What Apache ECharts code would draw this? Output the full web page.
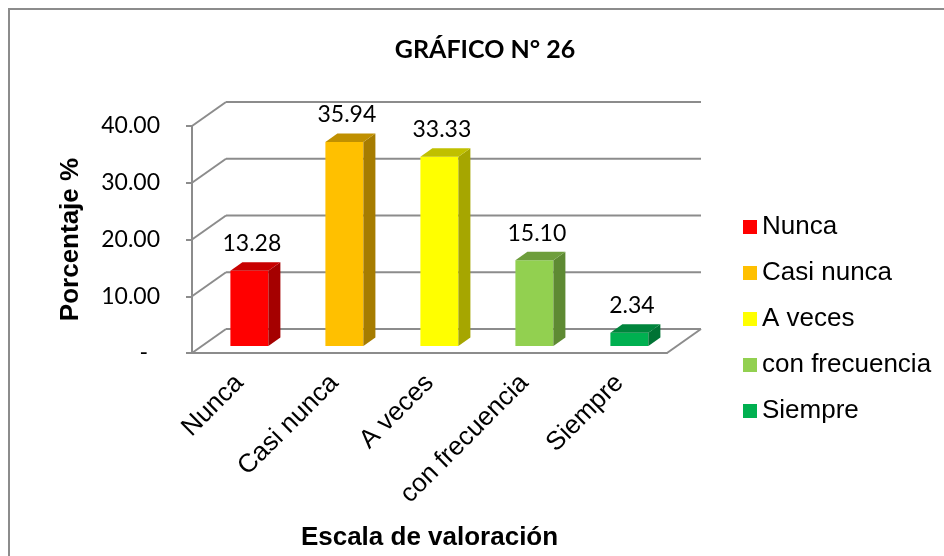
<!DOCTYPE html>
<html>
<head>
    <meta charset="utf-8">
    <title>GRÁFICO N° 26</title>
    <script src="https://cdn.jsdelivr.net/npm/echarts@6/dist/echarts.min.js"></script>
    <style>
        html, body { margin: 0; padding: 0; background: #fff; }
    </style>
</head>
<body>
    <div id="main" style="width: 944px;height:556px;"></div>
<script type="text/javascript">
// datos del gráfico
var categorias = ['Nunca', 'Casi nunca', 'A veces', 'con frecuencia', 'Siempre'];
var porcentajes = [13.28, 35.94, 33.33, 15.10, 2.34];
var marcasY = [0, 10, 20, 30, 40];

// colores: cara frontal, lateral, superior
var colorFrente = ['#FF0000', '#FFC000', '#FFFF00', '#92D050', '#00B050'];
var colorLado = ['#A50000', '#A67C00', '#A6A600', '#5E8A33', '#007334'];
var colorArriba = ['#C80000', '#C09000', '#C0C000', '#6E9E3C', '#00853C'];

// proyección 3D: fondo de la pared y posición/espesor de las barras
var DX = 34, DY = -24;      // profundidad total
var BX = 9.9, BY = -7;      // cara frontal de la barra
var PX = 12, PY = -8.5;     // espesor de la barra
var GRIS = '#8c8c8c';

var myChart = echarts.init(document.getElementById('main'));

function paredes(params, api) {
    var v = api.value(1);
    var p = api.coord([0, v]);
    var bw = api.size([1, 0])[0];
    var x0 = p[0] - bw / 2;
    var x1 = x0 + bw * categorias.length;
    var y = p[1];
    var est = { stroke: GRIS, lineWidth: 2 };
    var hijos = [
        { type: 'line', shape: { x1: x0, y1: y, x2: x0 + DX, y2: y + DY }, style: est },
        { type: 'line', shape: { x1: x0 + DX, y1: y + DY, x2: x1 + DX, y2: y + DY }, style: est }
    ];
    if (v === 0) {
        hijos.push({ type: 'line', shape: { x1: x1, y1: y, x2: x1 + DX, y2: y + DY }, style: est });
    }
    return { type: 'group', children: hijos };
}

function barra3d(params, api) {
    var i = api.value(0);
    var val = api.value(1);
    var base = api.coord([i, 0]);
    var tope = api.coord([i, val]);
    var w = api.size([1, 0])[0] * 0.4;
    var xl = tope[0] - w / 2 + BX, xr = xl + w;
    var yt = tope[1] + BY, yb = base[1] + BY;
    return {
        type: 'group',
        children: [
            { type: 'rect', shape: { x: xl, y: yt, width: w, height: yb - yt }, style: { fill: colorFrente[i] } },
            { type: 'polygon', shape: { points: [[xr, yb], [xr, yt], [xr + PX, yt + PY], [xr + PX, yb + PY]] }, style: { fill: colorLado[i] } },
            { type: 'polygon', shape: { points: [[xl, yt], [xr, yt], [xr + PX, yt + PY], [xl + PX, yt + PY]] }, style: { fill: colorArriba[i] } },
            { type: 'text', x: tope[0] + BX + 2.5, y: yt - 27, style: {
                text: val.toFixed(2), fill: '#000', font: '23px Lato', align: 'center', verticalAlign: 'middle' } }
        ]
    };
}

var series = [{
    type: 'custom',
    name: 'pared',
    z: 1,
    silent: true,
    renderItem: paredes,
    data: marcasY.map(function (v) { return [0, v]; })
}];
categorias.forEach(function (c, i) {
    series.push({
        type: 'custom',
        name: c,
        z: 3,
        itemStyle: { color: colorFrente[i] },
        renderItem: barra3d,
        data: [[i, porcentajes[i]]]
    });
});

option = {
    animation: false,
    title: {
        text: 'GRÁFICO N° 26',
        left: 480,
        top: 32,
        textAlign: 'center',
        textStyle: { fontFamily: 'Lato', fontWeight: 'bold', fontSize: 25, color: '#000' }
    },
    graphic: [{
        type: 'rect',
        shape: { x: 9, y: 9, width: 960, height: 580 },
        style: { fill: 'none', stroke: GRIS, lineWidth: 2 },
        silent: true
    }],
    legend: {
        orient: 'vertical',
        left: 738,
        top: 209,
        itemWidth: 14,
        itemHeight: 14,
        itemGap: 20,
        icon: 'rect',
        data: categorias,
        textStyle: { fontFamily: 'Liberation Sans', fontSize: 26, color: '#000', lineHeight: 26 }
    },
    grid: { left: 192, right: 277, top: 126, bottom: 203, outerBoundsMode: 'none', containLabel: false },
    xAxis: {
        type: 'category',
        data: categorias,
        name: 'Escala de valoración',
        nameLocation: 'middle',
        nameGap: 172,
        nameTextStyle: { fontFamily: 'Liberation Sans', fontWeight: 'bold', fontSize: 26, color: '#000' },
        axisLine: { show: true, lineStyle: { color: GRIS, width: 2 } },
        axisTick: { show: false },
        axisLabel: { rotate: 45, margin: 26, interval: 0, fontFamily: 'Liberation Sans', fontSize: 26, color: '#000' }
    },
    yAxis: {
        type: 'value',
        min: 0,
        max: 40,
        interval: 10,
        name: 'Porcentaje %',
        nameLocation: 'middle',
        nameRotate: 90,
        nameGap: 108,
        nameTextStyle: { fontFamily: 'Liberation Sans', fontWeight: 'bold', fontSize: 26, color: '#000' },
        axisLine: { show: true, lineStyle: { color: GRIS, width: 2 } },
        axisTick: { show: true, length: 6, lineStyle: { color: GRIS, width: 2 } },
        splitLine: { show: false },
        axisLabel: {
            margin: 32,
            fontFamily: 'Lato',
            fontSize: 23,
            color: '#000',
            formatter: function (v) { return v === 0 ? '{d|-}' : v.toFixed(2); },
            rich: { d: { fontFamily: 'Lato', fontSize: 23, color: '#000', padding: [0, 12, 0, 0] } }
        }
    },
    series: series
};

myChart.setOption(option);
</script>
</body>
</html>
